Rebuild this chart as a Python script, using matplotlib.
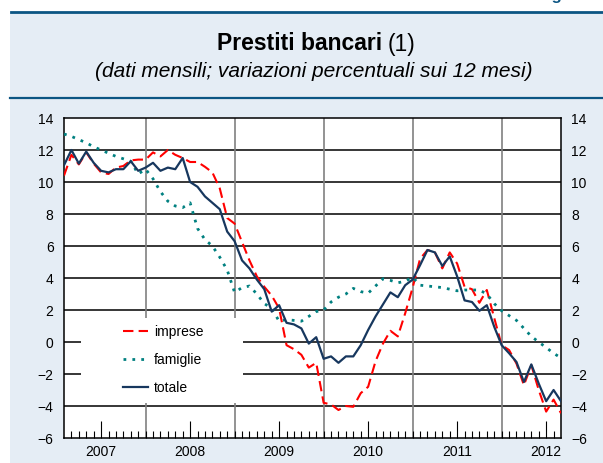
import numpy as np
import matplotlib
matplotlib.use('Agg')
import matplotlib.pyplot as plt
from matplotlib.patches import Rectangle
from matplotlib.lines import Line2D

plt.rcParams['font.family'] = ['Liberation Sans', 'DejaVu Sans']

# monthly data, Jan 2007 .. Aug 2012
years = ['2007', '2008', '2009', '2010', '2011', '2012']
imprese = [10.4, 11.7, 11.1, 11.85, 11.15, 10.6, 10.5, 10.9, 11.0, 11.35, 11.4, 11.4,
           11.85, 11.6, 12.0, 11.7, 11.5, 11.25, 11.25, 10.95, 10.6, 9.6, 7.75, 7.4,
           6.25, 5.1, 4.1, 3.45, 2.9, 2.1, -0.2, -0.45, -0.8, -1.6, -1.3, -3.8,
           -3.9, -4.25, -4.0, -4.05, -3.2, -2.8, -1.2, -0.1, 0.7, 0.35, 1.8, 3.4,
           5.2, 5.75, 5.6, 4.6, 5.6, 4.9, 3.45, 3.3, 2.45, 3.25, 1.5, -0.2,
           -0.5, -1.35, -2.7, -1.45, -3.0, -4.35, -3.6, -4.45]
famiglie = [13.0, 12.85, 12.65, 12.45, 12.2, 12.0, 11.8, 11.6, 11.45, 11.3, 10.5, 10.8,
            10.2, 9.4, 8.8, 8.5, 8.4, 8.7, 7.1, 6.4, 6.0, 5.3, 4.5, 3.1,
            3.4, 3.5, 3.0, 2.4, 2.1, 1.3, 1.4, 1.35, 1.3, 1.6, 1.9, 2.0,
            2.5, 2.8, 3.0, 3.35, 3.15, 3.05, 3.5, 3.95, 3.85, 3.7, 3.8, 4.05,
            3.55, 3.5, 3.45, 3.4, 3.3, 3.2, 3.25, 3.25, 3.25, 3.0, 2.4, 1.95,
            1.65, 1.35, 0.85, 0.35, 0.0, -0.35, -0.7, -1.0]
totale = [11.05, 12.0, 11.15, 11.9, 11.2, 10.7, 10.6, 10.8, 10.8, 11.3, 10.7, 10.9,
          11.2, 10.7, 10.9, 10.8, 11.5, 10.0, 9.7, 9.1, 8.7, 8.3, 6.9, 6.3,
          5.1, 4.6, 3.9, 3.3, 1.9, 2.3, 1.2, 1.1, 0.85, -0.1, 0.3, -1.05,
          -0.9, -1.3, -0.9, -0.9, -0.2, 0.75, 1.6, 2.35, 3.1, 2.8, 3.55, 3.9,
          4.8, 5.75, 5.6, 4.75, 5.35, 4.1, 2.6, 2.5, 1.95, 2.3, 0.95, -0.2,
          -0.7, -1.25, -2.5, -1.4, -2.6, -3.7, -3.0, -3.7]

W, H = 603, 463
fig = plt.figure(figsize=(W / 100, H / 100), dpi=100)

# background panel and rules
fig.patches.append(Rectangle((10 / W, 0), 1, 1 - 13 / H, transform=fig.transFigure,
                             facecolor='#e5edf5', edgecolor='none', zorder=-10))
fig.add_artist(Line2D([11 / W, 1], [1 - 12 / H] * 2, color='#0b5583', lw=2, zorder=-5))
fig.add_artist(Line2D([10 / W, 1], [1 - 97.7 / H] * 2, color='#0b5583', lw=1.6, zorder=-5))
fig.text(538 / W, 1.0, 'Figura', fontsize=12, fontweight='bold',
         color='#0b5583', ha='left', va='baseline')

# title
fig.text(382 / W, 1 - 44 / H, 'Prestiti bancari', fontsize=16.5, fontweight='bold',
         ha='right', va='center')
fig.text(388 / W, 1 - 44 / H, '(1)', fontsize=16.5, ha='left', va='center')
fig.text(314 / W, 1 - 71.5 / H, '(dati mensili; variazioni percentuali sui 12 mesi)',
         fontsize=15, style='italic', ha='center', va='center')

ax = fig.add_axes([64 / W, 25 / H, 497 / W, 320 / H])
ax.set_zorder(1)
x = np.arange(len(totale))
ax.set_xlim(0, len(totale) - 1)
ax.set_ylim(-6, 14)

for v in range(-4, 14, 2):
    ax.axhline(v, color='black', lw=1.1, zorder=1)
for b in [11, 23, 35, 47, 59]:
    ax.axvline(b, color='#808080', lw=1.2, zorder=1)

# white box behind the legend
ax.add_patch(Rectangle((0.034, 0.109), 0.326, 0.266, transform=ax.transAxes,
                       facecolor='white', edgecolor='none', zorder=2))

ax.plot(x, imprese, color='#ff0000', lw=1.5, dashes=(5, 2.5), zorder=3, label='imprese')
ax.plot(x, famiglie, color='#008080', lw=2, dashes=(1, 2.2), dash_capstyle='butt',
        zorder=3, label='famiglie')
ax.plot(x, totale, color='#17375e', lw=1.6, zorder=4, label='totale')

for s in ax.spines.values():
    s.set_color('black')
    s.set_linewidth(1.1)

major = [5, 17, 29, 41, 53, 65]
ax.set_xticks(major)
ax.set_xticklabels(years, fontsize=10)
ax.set_xticks([i for i in range(1, len(totale) - 1) if i not in major], minor=True)
ax.tick_params(axis='x', which='major', direction='in', length=12, width=0.8, pad=5)
ax.tick_params(axis='x', which='minor', direction='in', length=5, width=0.8)

ax.set_yticks(range(-6, 15, 2))
ax.tick_params(axis='y', length=0, labelright=True, labelsize=10, pad=7.5)

ax.legend(loc='upper left', bbox_to_anchor=(0.119, 0.352), frameon=False,
          fontsize=10, borderpad=0, borderaxespad=0, handlelength=1.8,
          handletextpad=0.4, labelspacing=1.0)

plt.savefig('out.png', dpi=100)
